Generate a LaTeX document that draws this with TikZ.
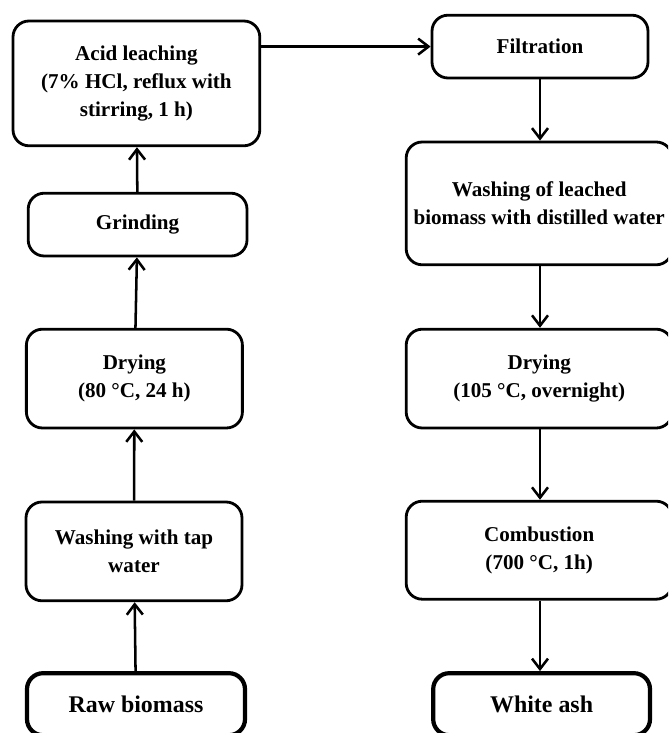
\documentclass[tikz,border=0pt]{standalone}
\usepackage{fontspec}
\setmainfont{Liberation Serif}
\usetikzlibrary{arrows.meta}

\begin{document}
\begin{tikzpicture}[->, >={Straight Barb[length=2.6mm,width=4mm]}, line width=1.8pt,
	step node/.style={rectangle,rounded corners=4mm,draw,line width=2pt,align=center,
		font=\bfseries\fontsize{15}{20}\selectfont,inner sep=0pt},
	end node/.style={step node,line width=3pt,font=\bfseries\fontsize{17}{20}\selectfont}
]

	\useasboundingbox (0,0) rectangle (16.7,18.325);
	\clip (0,0) rectangle (16.7,18.325);

	% left column, going up
	\node[end node,minimum width=5.45cm,minimum height=1.55cm] (raw) at (3.4,0.72) {Raw biomass};
	\node[step node,minimum width=5.4cm,minimum height=2.47cm] (wash) at (3.35,4.54) {Washing with tap\\water};
	\node[step node,minimum width=5.4cm,minimum height=2.47cm] (dry) at (3.36,8.86) {Drying\\(80 °C, 24 h)};
	\node[step node,minimum width=5.47cm,minimum height=1.57cm] (grind) at (3.44,12.71) {Grinding};
	\node[step node,minimum width=6.17cm,minimum height=3.12cm] (acid) at (3.41,16.24) {Acid leaching\\(7\% HCl, reflux with\\stirring, 1 h)};

	% right column, going down
	\node[step node,minimum width=5.4cm,minimum height=1.57cm] (filt) at (13.5,17.16) {Filtration};
	\node[step node,minimum width=6.65cm,minimum height=3.07cm] (leach) at (13.48,13.24) {Washing of leached\\biomass with distilled water};
	\node[step node,minimum width=6.65cm,minimum height=2.47cm] (dryb) at (13.48,8.86) {Drying\\(105 °C, overnight)};
	\node[step node,minimum width=6.65cm,minimum height=2.45cm] (burn) at (13.48,4.57) {Combustion\\(700 °C, 1h)};
	\node[end node,minimum width=5.42cm,minimum height=1.55cm] (ash) at (13.54,0.72) {White ash};

	\draw (raw) -- (wash);
	\draw (wash) -- (dry);
	\draw (dry) -- (grind);
	\draw (grind) -- (acid);
	\draw (acid.east |- filt.west) -- (filt.west);
	\draw (filt.south) -- (filt.south |- leach.north);
	\draw (filt.south |- leach.south) -- (filt.south |- dryb.north);
	\draw (filt.south |- dryb.south) -- (filt.south |- burn.north);
	\draw (filt.south |- burn.south) -- (filt.south |- ash.north);
\end{tikzpicture}
\end{document}
